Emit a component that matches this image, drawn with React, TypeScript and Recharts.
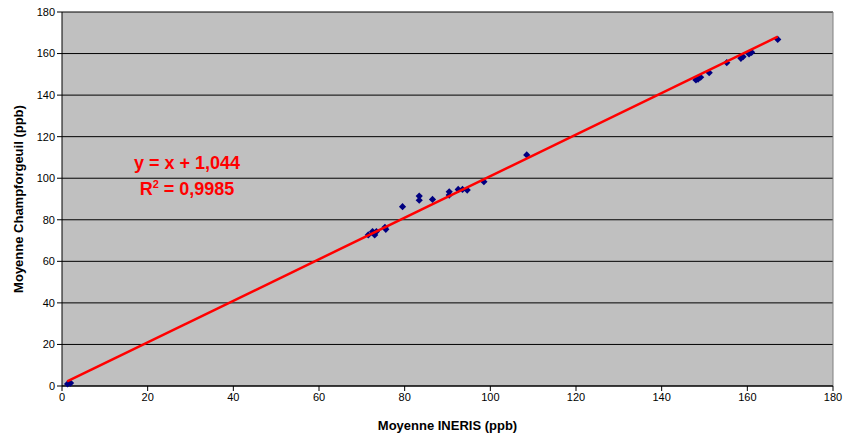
import React from "react";
import {
  ScatterChart,
  Scatter,
  XAxis,
  YAxis,
  CartesianGrid,
  ReferenceLine,
  Customized,
} from "recharts";

// values
const ineris = [
  1.3, 2.0, 71.5, 72.5, 73.0, 73.4, 75.4, 75.6, 79.5, 83.4, 83.4, 86.5, 90.4,
  90.4, 92.5, 93.5, 94.6, 98.5, 108.5, 148.0, 148.5, 149.1, 151.1, 155.2,
  158.5, 159.0, 160.4, 161.0, 167.1,
];
const champforgeuil = [
  1.0, 1.4, 72.7, 74.3, 72.7, 74.3, 76.4, 75.4, 86.3, 91.4, 89.4, 89.8, 93.5,
  91.9, 94.6, 94.6, 94.3, 98.3, 111.2, 147.3, 147.7, 148.6, 150.8, 155.6,
  157.7, 158.5, 159.8, 160.6, 166.8,
];
const trendX = [1.2, 167.1];
const trendY = [2.2, 168.1];
const ticks = [0, 20, 40, 60, 80, 100, 120, 140, 160, 180];

const points = ineris.map((x, i) => ({ x, y: champforgeuil[i] }));
const trend = trendX.map((x, i) => ({ x, y: trendY[i] }));

const font = "'Liberation Sans', Arial, sans-serif";

// small square diamond like the Excel marker
const Diamond = (props: any) => {
  const { cx, cy } = props;
  const r = 3.6;
  return (
    <polygon
      points={`${cx},${cy - r} ${cx + r},${cy} ${cx},${cy + r} ${cx - r},${cy}`}
      fill="#000080"
    />
  );
};

function Equation() {
  return (
    <g
      fontFamily={font}
      fontWeight="bold"
      fontSize={18}
      fill="#ff0000"
      textAnchor="middle"
    >
      <text x={187} y={169}>
        y = x + 1,044
      </text>
      <text x={187} y={195}>
        R<tspan dy={-7} fontSize={11}>2</tspan>
        <tspan dy={7}> = 0,9985</tspan>
      </text>
    </g>
  );
}

export default function App() {
  return (
    <div style={{ position: "absolute", left: 0, top: 0, background: "#fff" }}>
      <ScatterChart
        width={847}
        height={441}
        margin={{ top: 12, right: 14, bottom: 0, left: 0 }}
      >
        <CartesianGrid
          vertical={false}
          stroke="#000"
          fill="#c0c0c0"
          fillOpacity={1}
        />
        <XAxis
          type="number"
          dataKey="x"
          domain={[0, 180]}
          ticks={ticks}
          height={55}
          tickSize={5}
          tickLine={{ stroke: "#000" }}
          axisLine={{ stroke: "#000" }}
          tick={{ fill: "#000", fontSize: 11, fontFamily: font }}
          label={{
            value: "Moyenne INERIS (ppb)",
            position: "insideBottom",
            offset: 11,
            fill: "#000",
            fontSize: 13,
            fontWeight: "bold",
            fontFamily: font,
          }}
        />
        <YAxis
          type="number"
          dataKey="y"
          domain={[0, 180]}
          ticks={ticks}
          width={62}
          tickSize={5}
          tickLine={{ stroke: "#000" }}
          axisLine={{ stroke: "#000" }}
          tick={{ fill: "#000", fontSize: 11, fontFamily: font }}
          label={{
            content: ({ viewBox }: any) => {
              const cx = viewBox.x + 18;
              const cy = viewBox.y + viewBox.height / 2;
              return (
                <text
                  x={cx}
                  y={cy}
                  transform={`rotate(-90, ${cx}, ${cy})`}
                  textAnchor="middle"
                  dominantBaseline="central"
                  fontFamily={font}
                  fontWeight="bold"
                  fontSize={13}
                  fill="#000"
                >
                  Moyenne Champforgeuil (ppb)
                </text>
              );
            },
          }}
        />
        <ReferenceLine x={180} stroke="#808080" />
        <Scatter
          data={points}
          fill="#000080"
          shape={Diamond}
          isAnimationActive={false}
        />
        <Scatter
          data={trend}
          line={{ stroke: "#ff0000", strokeWidth: 2.5 }}
          shape={() => <g />}
          isAnimationActive={false}
        />
        <Customized component={Equation} />
      </ScatterChart>
    </div>
  );
}
